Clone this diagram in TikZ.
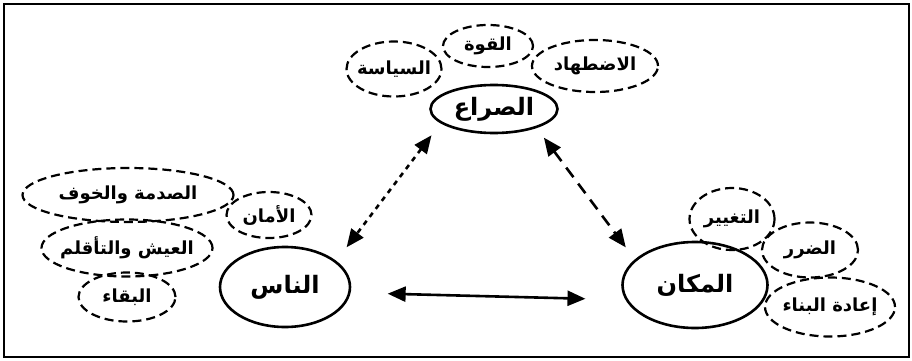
\documentclass[tikz,border=0pt]{standalone}
\usepackage{fontspec}
\newfontfamily\arabicfont[Script=Arabic]{DejaVu Sans}
\TeXXeTstate=1
\usetikzlibrary{shapes.geometric,arrows.meta}
\newcommand{\artext}[1]{\beginR #1\endR}

\begin{document}
\begin{tikzpicture}[x=1pt,y=-1pt,
	every node/.style={ellipse,inner ysep=0pt,inner xsep=-20pt,align=center},
	core/.style={draw,line width=2.6pt,font=\arabicfont\bfseries\fontsize{24}{26}\selectfont},
	facet/.style={draw,line width=2.2pt,dash pattern=on 9pt off 5pt,font=\arabicfont\bfseries\fontsize{18}{20}\selectfont},
	link/.style={line width=2.6pt,{Triangle[length=18pt,width=15pt]}-{Triangle[length=18pt,width=15pt]}}]
    \useasboundingbox (0,0) rectangle (912,361);
    \draw[line width=2.8pt] (4,4) rectangle (909,357);

    % the three poles
    \node[core,minimum width=127pt,minimum height=48pt] (sirae) at (494,109) {\artext{الصراع}};
    \node[core,minimum width=130pt,minimum height=80pt] (nas) at (285,287) {\artext{الناس}};
    \node[core,minimum width=145pt,minimum height=86pt] (makan) at (695,285) {\artext{المكان}};

    % around the conflict
    \node[facet,minimum width=95pt,minimum height=55pt] (siyasa) at (394,69) {\artext{السياسة}};
    \node[facet,minimum width=90pt,minimum height=42pt] (quwwa) at (488,46) {\artext{القوة}};
    \node[facet,minimum width=126pt,minimum height=52pt] (idtihad) at (595,66) {\artext{الاضطهاد}};

    % around the people
    \node[facet,minimum width=211pt,minimum height=54pt] (sadma) at (128,195) {\artext{الصدمة والخوف}};
    \node[facet,minimum width=85pt,minimum height=46pt] (aman) at (269,215) {\artext{الأمان}};
    \node[facet,minimum width=171pt,minimum height=57pt] (aysh) at (127,248) {\artext{العيش والتأقلم}};
    \node[facet,minimum width=97pt,minimum height=49pt] (baqa) at (127,297) {\artext{البقاء}};

    % around the place
    \node[facet,minimum width=85pt,minimum height=62pt] (taghyir) at (732,219) {\artext{التغيير}};
    \node[facet,minimum width=96pt,minimum height=55pt] (darar) at (810,250) {\artext{الضرر}};
    \node[facet,minimum width=130pt,minimum height=59pt] (binaa) at (830,307) {\artext{إعادة البناء}};

    % relations
    \draw[link,dash pattern=on 5pt off 5pt,shorten <=15pt,shorten >=17pt] (sirae.195) -- (nas.27);
    \draw[link,dash pattern=on 12pt off 8pt,shorten <=12pt,shorten >=15pt] (sirae.336) -- (makan.157);
    \draw[link,shorten <=37pt,shorten >=40pt] (nas.355.6) -- (makan.192.6);
\end{tikzpicture}
\end{document}
